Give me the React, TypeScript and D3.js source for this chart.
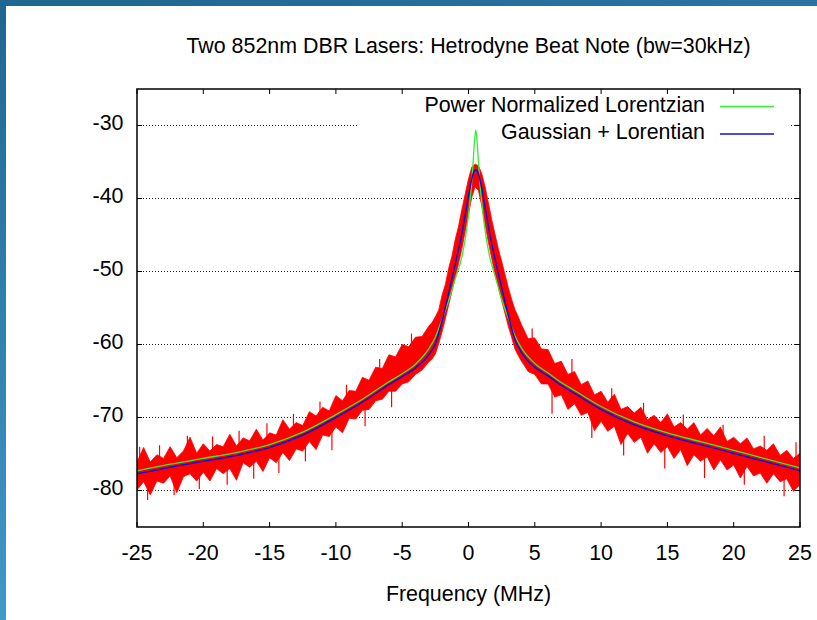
import * as d3 from 'd3';

// Fitted curves, sampled along frequency (MHz)
const fitFreq = [
  -25, -22.5, -20, -17.5, -15, -12.5, -10, -8, -6, -5,
  -4, -3, -2.5, -2, -1.5, -1, -0.5, -0.2, 0.1, 0.25,
  0.35, 0.45, 0.55, 0.65, 0.75, 0.85, 1, 1.3, 1.6, 2,
  2.5, 3, 3.5, 4, 5, 6, 7, 8, 10, 12.5,
  15, 17.5, 20, 22.5, 25,
];
const lorentzian = [
  -77.3, -76.4, -75.6, -74.8, -73.7, -72.0, -69.6, -67.5, -65.1, -64.0,
  -62.7, -60.6, -59.0, -56.6, -54.0, -51.0, -48.0, -45.0, -40.6, -37.6,
  -35.0, -32.2, -30.6, -32.2, -35.0, -37.6, -40.6, -45.0, -48.0, -50.6,
  -53.8, -56.4, -58.8, -60.5, -62.6, -63.9, -65.2, -66.3, -68.5, -70.6,
  -72.1, -73.3, -74.5, -75.7, -76.9,
];
const gaussLorentz = [
  -77.7, -76.8, -76.0, -75.2, -74.1, -72.4, -70.0, -67.9, -65.5, -64.4,
  -63.2, -61.4, -59.9, -56.8, -53.0, -49.0, -44.8, -41.7, -38.6, -37.3,
  -36.6, -36.2, -36.1, -36.2, -36.6, -37.3, -38.6, -41.7, -44.8, -48.3,
  -52.2, -56.0, -59.3, -61.1, -63.1, -64.3, -65.6, -66.7, -68.9, -71.0,
  -72.5, -73.7, -74.9, -76.1, -77.3,
];

// Measured beat note: upper / lower edge of the noisy trace
const redFreq = [
  -25, -24.5, -24, -23.5, -23, -22.5, -22, -21.5, -21, -20.5,
  -20, -19.5, -19, -18.5, -18, -17.5, -17, -16.5, -16, -15.5,
  -15, -14.5, -14, -13.5, -13, -12.5, -12, -11.5, -11, -10.5,
  -10, -9.5, -9, -8.5, -8, -7.5, -7, -6.5, -6, -5.5,
  -5, -4.5, -4, -3.5, -3,
  -2.75, -2.5, -2.25, -2, -1.75, -1.5, -1.25, -1, -0.75, -0.5,
  -0.25, 0, 0.25, 0.5, 0.75, 1, 1.25, 1.5, 1.75, 2,
  2.25, 2.5, 2.75, 3, 3.25, 3.5, 3.75,
  4, 4.5, 5, 5.5, 6, 6.5, 7, 7.5, 8, 8.5,
  9, 9.5, 10, 10.5, 11, 11.5, 12, 12.5, 13, 13.5,
  14, 14.5, 15, 15.5, 16, 16.5, 17, 17.5, 18, 18.5,
  19, 19.5, 20, 20.5, 21, 21.5, 22, 22.5, 23, 23.5,
  24, 24.5, 25,
];
const redHigh = [
  -76.1, -74.1, -76.1, -75.1, -75.6, -74.0, -75.5, -74.6, -72.7, -74.9,
  -73.6, -74.6, -73.7, -74.0, -72.3, -73.9, -72.8, -73.2, -71.6, -73.1,
  -72.1, -72.4, -70.3, -71.6, -70.7, -71.1, -69.2, -69.8, -68.6, -69.1,
  -67.0, -67.7, -66.3, -66.4, -64.5, -64.9, -63.1, -63.3, -61.4, -61.7,
  -60.0, -60.3, -59.0, -58.9, -57.5,
  -57.0, -56.2, -55.3, -53.3, -51.8, -49.6, -47.9, -45.6, -43.8, -41.5,
  -39.4, -37.3, -35.7, -35.3, -35.5, -36.6, -38.4, -40.6, -42.9, -44.9,
  -46.9, -48.6, -50.4, -52.2, -53.8, -55.2, -56.2,
  -57.3, -59.2, -59.1, -60.6, -60.7, -62.6, -62.3, -64.1, -63.7, -65.5,
  -65.0, -66.9, -66.4, -67.9, -66.8, -68.9, -68.5, -69.4, -68.6, -70.3,
  -69.7, -70.7, -69.5, -71.3, -70.7, -71.6, -70.7, -72.4, -71.5, -72.5,
  -71.3, -73.3, -72.7, -73.6, -72.8, -74.3, -73.9, -74.5, -73.6, -75.2,
  -74.5, -75.6, -74.9,
];
const redLow = [
  -79.9, -78.8, -80.6, -78.7, -79.0, -78.0, -80.3, -78.1, -77.7, -78.7,
  -77.5, -78.7, -77.0, -77.7, -77.0, -78.6, -76.2, -76.8, -76.0, -77.4,
  -75.5, -76.2, -74.8, -75.9, -74.3, -74.6, -73.3, -74.4, -72.4, -72.6,
  -71.3, -72.1, -70.1, -70.2, -69.0, -68.9, -67.7, -67.5, -66.4, -66.4,
  -65.4, -65.1, -64.1, -63.5, -62.4,
  -62.0, -61.3, -59.9, -58.3, -56.5, -54.6, -52.7, -50.8, -48.9, -46.9,
  -44.5, -42.2, -39.8, -38.4, -38.9, -41.0, -43.5, -46.0, -48.2, -50.3,
  -52.1, -54.0, -55.7, -57.5, -59.0, -60.6, -61.5,
  -62.3, -63.7, -64.1, -65.4, -65.4, -67.2, -66.9, -68.9, -68.1, -69.7,
  -69.3, -71.8, -70.5, -71.9, -71.2, -73.7, -72.2, -73.4, -72.7, -74.9,
  -73.6, -74.8, -74.0, -75.6, -74.4, -76.6, -75.1, -76.0, -75.4, -77.2,
  -75.8, -77.2, -76.5, -78.3, -76.7, -78.0, -77.6, -79.0, -77.7, -78.8,
  -78.4, -80.1, -79.2,
];

// Isolated noise spikes on the trace (top / bottom, dBm)
const spikeFreq = [
  -24.8, -24.2, -23.3, -22.2, -21.2, -20.3, -19.3, -18.2, -17.3, -16.2,
  -15.2, -14.3, -13.2, -12.3, -11.2, -10.3, -9.2, -7.8, -6.7, -5.8,
  -4.3, 4.8, 6.3, 7.8, 9.3, 10.8, 11.7, 13.2,
  14.8, 16.2, 17.8, 19.2, 20.8, 22.3, 23.8, 24.7,
];
const spikeTop = [
  -74.0, -77.5, -73.8, -77.0, -72.5, -76.3, -72.6, -75.8, -71.8, -75.0,
  -70.8, -74.2, -69.5, -72.8, -67.8, -70.8, -65.5, -68.0, -62.0, -65.5,
  -58.5, -57.8, -65.0, -62.0, -68.5, -66.0, -70.8, -68.0,
  -72.8, -69.6, -74.2, -71.0, -75.6, -72.5, -77.0, -73.4,
];
const spikeBottom = [
  -77.0, -81.3, -76.5, -80.6, -76.0, -79.8, -75.5, -79.2, -74.8, -78.4,
  -74.0, -77.6, -72.6, -76.0, -70.8, -74.5, -68.8, -71.2, -66.0, -68.6,
  -63.0, -62.0, -69.5, -66.0, -72.8, -69.0, -75.2, -71.0,
  -77.0, -72.8, -78.3, -74.2, -79.2, -75.8, -80.8, -77.0,
];

const xTicks = [-25, -20, -15, -10, -5, 0, 5, 10, 15, 20, 25];
const yTicks = [-80, -70, -60, -50, -40, -30];
const legendLabels = ['Power Normalized Lorentzian', 'Gaussian + Lorentian'];

const FONT = '"Liberation Sans", Arial, Helvetica, sans-serif';

export default function App() {
  const width = 817;
  const height = 620;
  const margin = { top: 89, right: 17, bottom: 93, left: 137 };
  const plotRight = width - margin.right;
  const plotBottom = height - margin.bottom;
  const fs = 21.4;

  const x = d3.scaleLinear().domain([-25, 25]).range([margin.left, plotRight]);
  const y = d3.scaleLinear().domain([-85, -25]).range([plotBottom, margin.top]);

  const band = d3.area<number>()
    .x((_, i) => x(redFreq[i]))
    .y0((_, i) => y(redLow[i]))
    .y1((_, i) => y(redHigh[i]));

  const fitLine = (vals: number[]) =>
    d3.line<number>()
      .x((_, i) => x(fitFreq[i]))
      .y((d) => y(d))
      .curve(d3.curveMonotoneX)(vals) || '';

  const tick = 5;
  const colors = ['#33ee33', '#1010d0'];

  return (
    <div style={{ position: 'absolute', left: 0, top: 0, width, height, background: '#fff' }}>
      <svg width={width} height={height} style={{ display: 'block' }} fontFamily={FONT}>
        <defs>
          <linearGradient id="leftBar" x1="0" y1="0" x2="0" y2="1">
            <stop offset="0%" stopColor="#1f6690" />
            <stop offset="100%" stopColor="#4198ca" />
          </linearGradient>
          <linearGradient id="topBar" x1="0" y1="0" x2="1" y2="0">
            <stop offset="0%" stopColor="#1f6690" />
            <stop offset="100%" stopColor="#2b74a2" />
          </linearGradient>
          <clipPath id="plotClip">
            <rect x={margin.left} y={margin.top} width={plotRight - margin.left} height={plotBottom - margin.top} />
          </clipPath>
        </defs>

        {/* slide frame */}
        <rect x={0} y={0} width={6} height={height} fill="url(#leftBar)" />
        <rect x={0} y={0} width={width} height={6} fill="url(#topBar)" />

        {/* title */}
        <text x={(margin.left + plotRight) / 2} y={53} textAnchor="middle" fontSize={fs} fill="#000">
          Two 852nm DBR Lasers: Hetrodyne Beat Note (bw=30kHz)
        </text>

        {/* horizontal grid */}
        {yTicks.map((t) => (
          <line key={'g' + t} x1={margin.left} x2={plotRight} y1={y(t)} y2={y(t)}
            stroke="#222" strokeWidth={1} strokeDasharray="1,2" />
        ))}

        {/* key background hides the grid beneath */}
        <rect x={358} y={92} width={431} height={54} fill="#fff" />

        {/* data */}
        <g clipPath="url(#plotClip)">
          <path d={band(redFreq) || ''} fill="#ff0000" stroke="#ff0000" strokeWidth={0.8} />
          {spikeFreq.map((f, i) => (
            <line key={'s' + i} x1={x(f)} x2={x(f)} y1={y(spikeTop[i])} y2={y(spikeBottom[i])}
              stroke="#ff0000" strokeWidth={1.2} />
          ))}
          <path d={fitLine(lorentzian)} fill="none" stroke={colors[0]} strokeWidth={1.3} />
          <path d={fitLine(gaussLorentz)} fill="none" stroke={colors[1]} strokeWidth={1.5} />
        </g>

        {/* ticks */}
        {yTicks.map((t) => (
          <g key={'yt' + t}>
            <line x1={margin.left} x2={margin.left + tick} y1={y(t)} y2={y(t)} stroke="#000" />
            <line x1={plotRight - tick} x2={plotRight} y1={y(t)} y2={y(t)} stroke="#000" />
            <text x={margin.left - 13.5} y={y(t) + 4.5} textAnchor="end" fontSize={fs}>{String(t)}</text>
          </g>
        ))}
        {xTicks.map((t) => (
          <g key={'xt' + t}>
            <line x1={x(t)} x2={x(t)} y1={plotBottom} y2={plotBottom - tick} stroke="#000" />
            <line x1={x(t)} x2={x(t)} y1={margin.top} y2={margin.top + tick} stroke="#000" />
            <text x={x(t)} y={560} textAnchor="middle" fontSize={fs}>{String(t)}</text>
          </g>
        ))}

        {/* border */}
        <rect x={margin.left} y={margin.top} width={plotRight - margin.left} height={plotBottom - margin.top}
          fill="none" stroke="#000" strokeWidth={1.5} />

        {/* legend */}
        {legendLabels.map((label, i) => (
          <g key={label}>
            <text x={705} y={106 + i * 27.5 + 5.8} textAnchor="end" fontSize={fs}>{label}</text>
            <line x1={720} x2={774} y1={106.5 + i * 27.5} y2={106.5 + i * 27.5} stroke={colors[i]} strokeWidth={1.3} />
          </g>
        ))}

        {/* axis label */}
        <text x={(margin.left + plotRight) / 2} y={601} textAnchor="middle" fontSize={fs}>Frequency (MHz)</text>
      </svg>
    </div>
  );
}
